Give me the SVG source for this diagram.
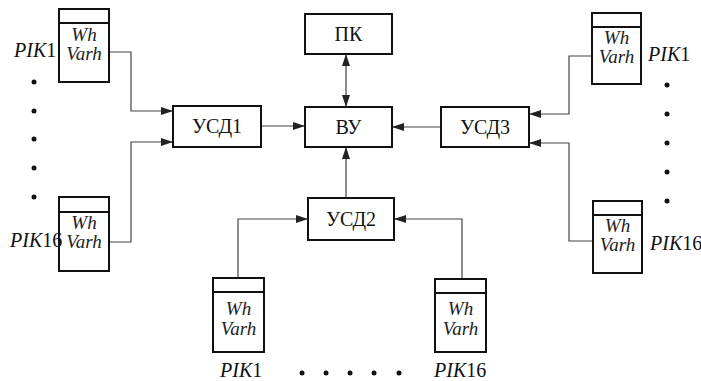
<svg xmlns="http://www.w3.org/2000/svg" width="701" height="381" viewBox="0 0 701 381">
<style>
.box{fill:#fff;stroke:#111;stroke-width:2}
.mtr{fill:#fff;stroke:#111;stroke-width:2}
.div{stroke:#111;stroke-width:2}
.lbl{font-family:'Liberation Serif','DejaVu Serif','Times New Roman',serif;font-size:20px;fill:#111;text-anchor:middle}
.mt{font-family:'Liberation Serif','DejaVu Serif','Times New Roman',serif;font-size:19px;font-style:italic;fill:#222;text-anchor:middle}
.pik{font-family:'Liberation Serif','DejaVu Serif','Times New Roman',serif;font-size:20px;fill:#111}
.i{font-style:italic}
.con{fill:none;stroke:#444;stroke-width:1.2}
.dot{fill:#111}
</style>
<defs>
<marker id="ah" markerWidth="12" markerHeight="8" refX="11" refY="4" orient="auto" markerUnits="userSpaceOnUse">
<path d="M0,0 L12,4 L0,8 Z" fill="#222"/>
</marker>
<marker id="as" markerWidth="12" markerHeight="8" refX="11" refY="4" orient="auto-start-reverse" markerUnits="userSpaceOnUse">
<path d="M0,0 L12,4 L0,8 Z" fill="#222"/>
</marker>
</defs>

<g id="connectors">
<path class="con" d="M109,52 H131 V111 H172" marker-end="url(#ah)"/>
<path class="con" d="M109,242 H131 V142 H172" marker-end="url(#ah)"/>
<path class="con" d="M261,126 H304" marker-end="url(#ah)"/>
<path class="con" d="M346,55 V106" marker-start="url(#as)" marker-end="url(#ah)"/>
<path class="con" d="M346,198 V148" marker-end="url(#ah)"/>
<path class="con" d="M441,127 H393" marker-end="url(#ah)"/>
<path class="con" d="M592,56 H569 V114 H530" marker-end="url(#ah)"/>
<path class="con" d="M593,241 H569 V143 H530" marker-end="url(#ah)"/>
<path class="con" d="M238,278 V219 H307" marker-end="url(#ah)"/>
<path class="con" d="M462,279 V219 H395" marker-end="url(#ah)"/>
</g>

<g id="usd1"><rect class="box" x="173" y="106" width="88" height="41"/><text class="lbl" x="217" y="133">УСД1</text></g>
<g id="pk"><rect class="box" x="305" y="14" width="87" height="40"/><text class="lbl" x="348.5" y="41">ПК</text></g>
<g id="vu"><rect class="box" x="305" y="107" width="87" height="40"/><text class="lbl" x="348.5" y="134">ВУ</text></g>
<g id="usd2"><rect class="box" x="308" y="198" width="86" height="42"/><text class="lbl" x="351" y="226">УСД2</text></g>
<g id="usd3"><rect class="box" x="441" y="107" width="88" height="40"/><text class="lbl" x="485" y="134">УСД3</text></g>

<g id="pik1-left">
<rect class="mtr" x="59" y="9" width="50" height="73"/><line class="div" x1="59" y1="23" x2="109" y2="23"/>
<text class="mt" x="84" y="41">Wh</text><text class="mt" x="84" y="60">Varh</text>
<text class="pik" x="14" y="57"><tspan class="i">PIK</tspan>1</text>
</g>
<g id="pik16-left">
<rect class="mtr" x="59" y="197" width="50" height="74"/><line class="div" x1="59" y1="212" x2="109" y2="212"/>
<text class="mt" x="84" y="229">Wh</text><text class="mt" x="84" y="248">Varh</text>
<text class="pik" x="10" y="247"><tspan class="i">PIK</tspan>16</text>
</g>
<g id="pik1-right">
<rect class="mtr" x="592" y="13" width="49" height="71"/><line class="div" x1="592" y1="27" x2="641" y2="27"/>
<text class="mt" x="616.5" y="44">Wh</text><text class="mt" x="616.5" y="63">Varh</text>
<text class="pik" x="648" y="61"><tspan class="i">PIK</tspan>1</text>
</g>
<g id="pik16-right">
<rect class="mtr" x="593" y="201" width="49" height="72"/><line class="div" x1="593" y1="215" x2="642" y2="215"/>
<text class="mt" x="617.5" y="232">Wh</text><text class="mt" x="617.5" y="251">Varh</text>
<text class="pik" x="650" y="250"><tspan class="i">PIK</tspan>16</text>
</g>
<g id="pik1-bottom">
<rect class="mtr" x="213" y="278" width="51" height="74"/><line class="div" x1="213" y1="292" x2="264" y2="292"/>
<text class="mt" x="238.5" y="315">Wh</text><text class="mt" x="238.5" y="335">Varh</text>
<text class="pik" x="220" y="377"><tspan class="i">PIK</tspan>1</text>
</g>
<g id="pik16-bottom">
<rect class="mtr" x="435" y="279" width="51" height="73"/><line class="div" x1="435" y1="293" x2="486" y2="293"/>
<text class="mt" x="460.5" y="315">Wh</text><text class="mt" x="460.5" y="335">Varh</text>
<text class="pik" x="434" y="377"><tspan class="i">PIK</tspan>16</text>
</g>

<g id="dots">
<circle class="dot" cx="34" cy="82" r="2.5"/><circle class="dot" cx="34" cy="111" r="2.5"/><circle class="dot" cx="34" cy="139" r="2.5"/><circle class="dot" cx="34" cy="168" r="2.5"/><circle class="dot" cx="34" cy="197" r="2.5"/>
<circle class="dot" cx="667" cy="85" r="2.5"/><circle class="dot" cx="667" cy="114" r="2.5"/><circle class="dot" cx="667" cy="143" r="2.5"/><circle class="dot" cx="667" cy="172" r="2.5"/><circle class="dot" cx="667" cy="201" r="2.5"/>
<circle class="dot" cx="302" cy="373" r="2.5"/><circle class="dot" cx="326" cy="373" r="2.5"/><circle class="dot" cx="350" cy="373" r="2.5"/><circle class="dot" cx="374" cy="373" r="2.5"/><circle class="dot" cx="399" cy="373" r="2.5"/>
</g>
</svg>
